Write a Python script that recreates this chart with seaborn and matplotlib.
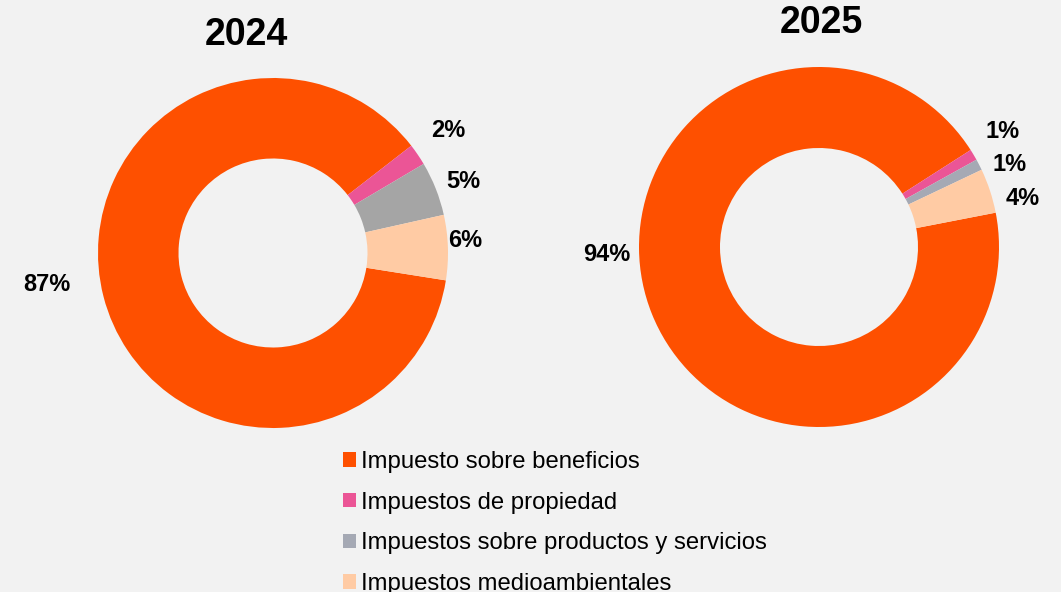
import numpy as np
import seaborn as sns
import matplotlib.pyplot as plt
from matplotlib.patches import Patch

# ---------- datos ----------
categorias = ['Impuesto sobre beneficios', 'Impuestos de propiedad',
              'Impuestos sobre productos y servicios', 'Impuestos medioambientales']
valores_2024 = [87, 2, 5, 6]
valores_2025 = [94, 1, 1, 4]
colores_2024 = ['#fe5000', '#eb5596', '#a5a5a5', '#ffcba4']
colores_2025 = ['#fe5000', '#eb5596', '#a5a9b4', '#ffcba4']
# posiciones de las etiquetas (coordenadas del eje, radio exterior = 1)
pos_2024 = [(-1.29, -0.18), (1.00, 0.70), (1.09, 0.41), (1.10, 0.07)]
pos_2025 = [(-1.18, -0.04), (1.02, 0.64), (1.06, 0.46), (1.13, 0.27)]

sns.set_theme(style='white')
plt.rcParams['font.family'] = ['Liberation Sans', 'DejaVu Sans']
BG = '#f2f2f2'

W, H = 1061, 592
fig = plt.figure(figsize=(W / 100, H / 100), dpi=100, facecolor=BG)


def donut(cx, cy, r, valores, colores, posiciones, start, ancho, titulo, ty):
    ax = fig.add_axes([(cx - r) / W, (H - cy - r) / H, 2 * r / W, 2 * r / H])
    ax.set_facecolor('none')
    ax.pie(valores, colors=colores, startangle=start, counterclock=False,
           radius=1, wedgeprops=dict(width=ancho, edgecolor='none'))
    ax.set_xlim(-1, 1)
    ax.set_ylim(-1, 1)
    ax.set_aspect('auto')
    ax.axis('off')
    for v, (x, y) in zip(valores, posiciones):
        ax.text(x, y, f'{v}%', ha='center', va='center', fontsize=17,
                fontweight='bold', color='black', clip_on=False)
    fig.text(ty[0] / W, 1 - ty[1] / H, titulo, ha='center', va='center',
             fontsize=27, fontweight='bold', color='black')


donut(273, 253, 175, valores_2024, colores_2024, pos_2024, -9, 0.46, '2024', (246, 35))
donut(819, 247, 180, valores_2025, colores_2025, pos_2025, 11, 0.45, '2025', (821, 23))

handles = [Patch(facecolor=c, edgecolor='none') for c in colores_2025]
leg = fig.legend(handles, categorias, loc='upper left',
                 bbox_to_anchor=(343 / W, 1 - 451 / H), frameon=False,
                 fontsize=17.2, handlelength=0.55, handleheight=0.55,
                 handletextpad=0.2, labelspacing=0.78, borderpad=0, borderaxespad=0)
for t in leg.get_texts():
    t.set_color('black')

fig.savefig('out.png', dpi=100, facecolor=BG)
